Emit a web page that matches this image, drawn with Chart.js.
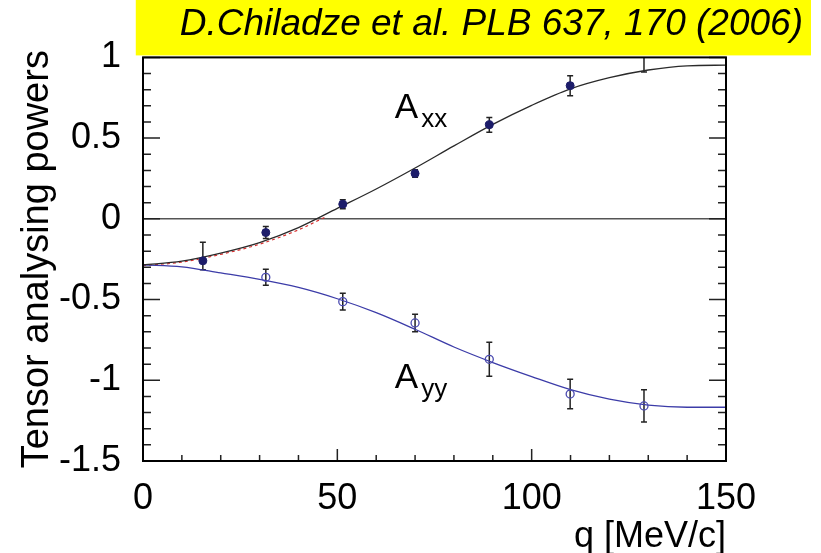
<!DOCTYPE html>
<html><head><meta charset="utf-8">
<script src="https://cdn.jsdelivr.net/npm/chart.js@4.4.1/dist/chart.umd.min.js"></script>
<style>html,body{margin:0;padding:0;background:#fff;overflow:hidden}#wrap{width:821px;height:553px}</style>
</head><body><div id="wrap"><canvas id="c" width="821" height="553"></canvas></div>
<script>
// ---- texts ----
const titleText = 'D.Chiladze et al. PLB 637, 170 (2006)';
const xTitle = 'q [MeV/c]';
const yTitle = 'Tensor analysing powers';
const labelMain = ['A', 'A'];
const labelSub = ['xx', 'yy'];
const labelQ = [64.8, 64.8];
const labelV = [0.626, -1.048];

// ---- theory curves ----
const curveQ = [0, 10, 20, 30, 40, 50, 60, 70, 80, 90, 100, 110, 120, 130, 140, 150];
const axxCurve = [-0.285, -0.262, -0.212, -0.147, -0.054, 0.065, 0.185, 0.315, 0.452, 0.585, 0.703, 0.805, 0.874, 0.922, 0.948, 0.952];
const ayyCurve = [-0.285, -0.297, -0.335, -0.375, -0.425, -0.495, -0.581, -0.684, -0.794, -0.890, -0.977, -1.058, -1.117, -1.154, -1.167, -1.167];
const redQ = [0, 10, 20, 30, 40, 47];
const redCurve = [-0.29, -0.268, -0.22, -0.157, -0.068, 0.012];
const zeroQ = [0, 150];
const zeroLine = [0, 0];

// ---- data points ----
const axxQ = [15.4, 31.6, 51.4, 70, 89.1, 109.9, 128.9];
const axxValues = [-0.26, -0.085, 0.091, 0.281, 0.583, 0.825, 1.04];
const axxErrUp = [0.115, 0.037, 0.028, 0.023, 0.045, 0.062, 0.13];
const axxErrDown = [0.056, 0.037, 0.028, 0.023, 0.046, 0.062, 0.13];
const ayyQ = [31.6, 51.4, 70, 89.1, 109.9, 128.9];
const ayyValues = [-0.362, -0.513, -0.645, -0.870, -1.085, -1.159];
const ayyErr = [0.05, 0.052, 0.054, 0.105, 0.091, 0.1];

const FONT = "'Liberation Sans', Arial, Helvetica, sans-serif";
Chart.defaults.font.family = FONT;
Chart.defaults.color = '#000';

const pts = (xs, ys) => xs.map((x, i) => ({x: x, y: ys[i]}));

const decor = {
  id: 'decor',
  beforeDraw(chart) {
    const ctx = chart.ctx;
    ctx.save();
    ctx.fillStyle = '#fff';
    ctx.fillRect(0, 0, chart.width, chart.height);
    const tb = chart.titleBlock;
    ctx.font = 'italic 37px ' + FONT;
    const w = ctx.measureText(titleText).width;
    ctx.fillStyle = '#ffff00';
    ctx.fillRect(tb.right - w - 44, 0, w + 52, chart.chartArea.top - 2);
    ctx.restore();
  },
  beforeDatasetsDraw(chart) {
    const ctx = chart.ctx, xs = chart.scales.x, ys = chart.scales.y, a = chart.chartArea;
    ctx.save();
    ctx.beginPath(); ctx.rect(a.left, a.top, a.right - a.left, a.bottom - a.top); ctx.clip();
    ctx.strokeStyle = '#222'; ctx.lineWidth = 1.5;
    const bar = (q, v, up, dn) => {
      const px = xs.getPixelForValue(q), t = ys.getPixelForValue(v + up), b = ys.getPixelForValue(v - dn);
      ctx.beginPath();
      ctx.moveTo(px, t); ctx.lineTo(px, b);
      ctx.moveTo(px - 3, t); ctx.lineTo(px + 3, t);
      ctx.moveTo(px - 3, b); ctx.lineTo(px + 3, b);
      ctx.stroke();
    };
    axxQ.forEach((q, i) => bar(q, axxValues[i], axxErrUp[i], axxErrDown[i]));
    ayyQ.forEach((q, i) => bar(q, ayyValues[i], ayyErr[i], ayyErr[i]));
    ctx.restore();
  },
  afterDatasetsDraw(chart) {
    const ctx = chart.ctx, xs = chart.scales.x, ys = chart.scales.y, a = chart.chartArea;
    ctx.save();
    ctx.strokeStyle = '#222'; ctx.lineWidth = 1.5;
    ctx.beginPath();
    ys.ticks.forEach(t => {
      const py = ys.getPixelForValue(t.value);
      const len = t.label !== '' ? 17 : 8;
      ctx.moveTo(a.left, py); ctx.lineTo(a.left + len, py);
      ctx.moveTo(a.right, py); ctx.lineTo(a.right - len, py);
    });
    xs.ticks.forEach(t => {
      const px = xs.getPixelForValue(t.value);
      const len = t.label !== '' ? 12 : 6;
      ctx.moveTo(px, a.bottom); ctx.lineTo(px, a.bottom - len);
    });
    ctx.stroke();
    ctx.strokeStyle = '#000'; ctx.lineWidth = 2;
    ctx.strokeRect(a.left, a.top, a.right - a.left, a.bottom - a.top);
    ctx.fillStyle = '#000'; ctx.textAlign = 'left'; ctx.textBaseline = 'alphabetic';
    labelMain.forEach((m, i) => {
      const px = xs.getPixelForValue(labelQ[i]), py = ys.getPixelForValue(labelV[i]);
      ctx.font = '35px ' + FONT;
      ctx.fillText(m, px, py);
      const w = ctx.measureText(m).width;
      ctx.font = '26px ' + FONT;
      ctx.fillText(labelSub[i], px + w + 3, py + 9);
    });
    ctx.restore();
  }
};

new Chart(document.getElementById('c'), {
  type: 'scatter',
  data: {
    datasets: [
      { label: 'Axx data', data: pts(axxQ, axxValues), pointRadius: 4, pointHoverRadius: 4,
        pointBackgroundColor: '#1c1c6a', pointBorderColor: '#1c1c6a', pointBorderWidth: 1, showLine: false },
      { label: 'Ayy data', data: pts(ayyQ, ayyValues), pointRadius: 4, pointHoverRadius: 4,
        pointBackgroundColor: 'rgba(0,0,0,0)', pointBorderColor: '#4a4ab0', pointBorderWidth: 1.3, showLine: false },
      { label: 'Axx fit', data: pts(curveQ, axxCurve), showLine: true, pointRadius: 0, borderColor: '#2a2a2a',
        borderWidth: 1.3, cubicInterpolationMode: 'monotone', fill: false },
      { label: 'Ayy fit', data: pts(curveQ, ayyCurve), showLine: true, pointRadius: 0, borderColor: '#3c3ca8',
        borderWidth: 1.3, cubicInterpolationMode: 'monotone', fill: false },
      { label: 'alt', data: pts(redQ, redCurve), showLine: true, pointRadius: 0, borderColor: '#d83030',
        borderWidth: 1.2, borderDash: [3, 3], cubicInterpolationMode: 'monotone', fill: false },
      { label: 'zero', data: pts(zeroQ, zeroLine), showLine: true, pointRadius: 0, borderColor: '#555',
        borderWidth: 1.5, fill: false }
    ]
  },
  options: {
    responsive: false,
    animation: false,
    devicePixelRatio: 1,
    layout: { padding: { left: 0, right: 18, top: 0, bottom: 0 } },
    plugins: {
      legend: { display: false },
      tooltip: { enabled: false },
      title: {
        display: true, text: titleText, align: 'end', color: '#000',
        font: { size: 37, style: 'italic', weight: 'normal', lineHeight: 1.2 },
        padding: { top: 3, bottom: 10 }
      }
    },
    scales: {
      x: {
        type: 'linear', min: 0, max: 150,
        grid: { display: false }, border: { display: false },
        ticks: { stepSize: 10, autoSkip: false, maxRotation: 0, padding: 8, color: '#000',
          font: { size: 36 }, callback: v => (Math.round(v) % 50 === 0 ? String(Math.round(v)) : '') },
        title: { display: true, text: xTitle, align: 'end', color: '#000',
          font: { size: 36, lineHeight: 0.8 }, padding: { top: 0, bottom: 2 } },
        afterFit: s => { s.height = 92; }
      },
      y: {
        type: 'linear', min: -1.5, max: 1, position: 'left',
        grid: { display: false }, border: { display: false },
        ticks: { stepSize: 0.1, autoSkip: false, padding: 14, color: '#000', font: { size: 36 },
          callback: v => { const r = Math.round(v * 10); return r % 5 === 0 ? String(r / 10) : ''; } },
        title: { display: true, text: yTitle, color: '#000', font: { size: 38, lineHeight: 1.2 },
          padding: { top: 15, bottom: 0 } },
        afterFit: s => { s.width = 143; }
      },
      y2: {
        type: 'linear', min: -1.5, max: 1, position: 'right',
        grid: { display: false }, border: { display: false },
        ticks: { display: false },
        afterFit: s => { s.width = 77; }
      }
    }
  },
  plugins: [decor]
});
</script>
</body></html>
